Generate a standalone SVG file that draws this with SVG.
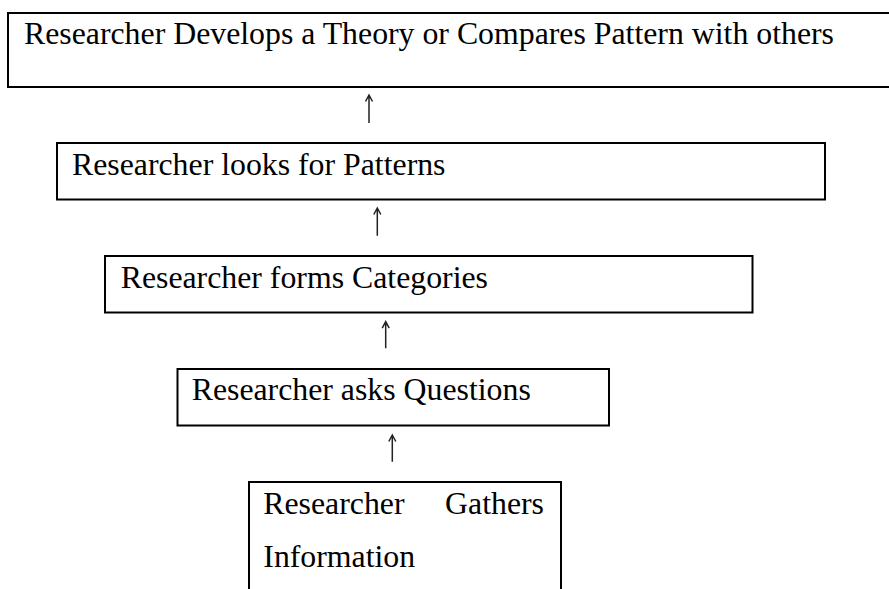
<svg xmlns="http://www.w3.org/2000/svg" width="889" height="589" viewBox="0 0 889 589">
<style>
.box{fill:#fff;stroke:#000;stroke-width:2}
.lbl{font-family:"Liberation Serif","Times New Roman",serif;font-size:31.8px;fill:#000}
.conn{stroke:#222;stroke-width:1.5;fill:none}
</style>
<rect width="889" height="589" fill="#fff"/>
<g id="n1">
<rect class="box" x="8" y="13" width="890" height="74"/>
<text class="lbl" x="24" y="43.5">Researcher Develops a Theory or Compares Pattern with others</text>
</g>
<g id="n2">
<rect class="box" x="57" y="143" width="768" height="56.5"/>
<text class="lbl" x="72" y="174.5">Researcher looks for Patterns</text>
</g>
<g id="n3">
<rect class="box" x="105" y="256" width="647.5" height="56.5"/>
<text class="lbl" x="120.7" y="288">Researcher forms Categories</text>
</g>
<g id="n4">
<rect class="box" x="177.5" y="369" width="431.5" height="56.5"/>
<text class="lbl" x="191.7" y="400">Researcher asks Questions</text>
</g>
<g id="n5">
<path class="box" d="M249,600 V482 H561 V600" fill="#fff"/>
<text class="lbl"><tspan x="263.3" y="513.5">Researcher</tspan><tspan x="544" y="513.5" text-anchor="end">Gathers</tspan><tspan x="263.3" y="567">Information</tspan></text>
</g>
<g id="connectors">
<path class="conn" d="M369,123 V95.5 M365.5,101.5 L369,95 L372.5,101.5"/>
<path class="conn" d="M377.3,235.7 V208.5 M373.8,214.5 L377.3,208 L380.8,214.5"/>
<path class="conn" d="M385.7,348.3 V322.2 M382.2,328.2 L385.7,321.7 L389.2,328.2"/>
<path class="conn" d="M392.3,461.7 V435.5 M388.8,441.5 L392.3,435 L395.8,441.5"/>
</g>
</svg>
